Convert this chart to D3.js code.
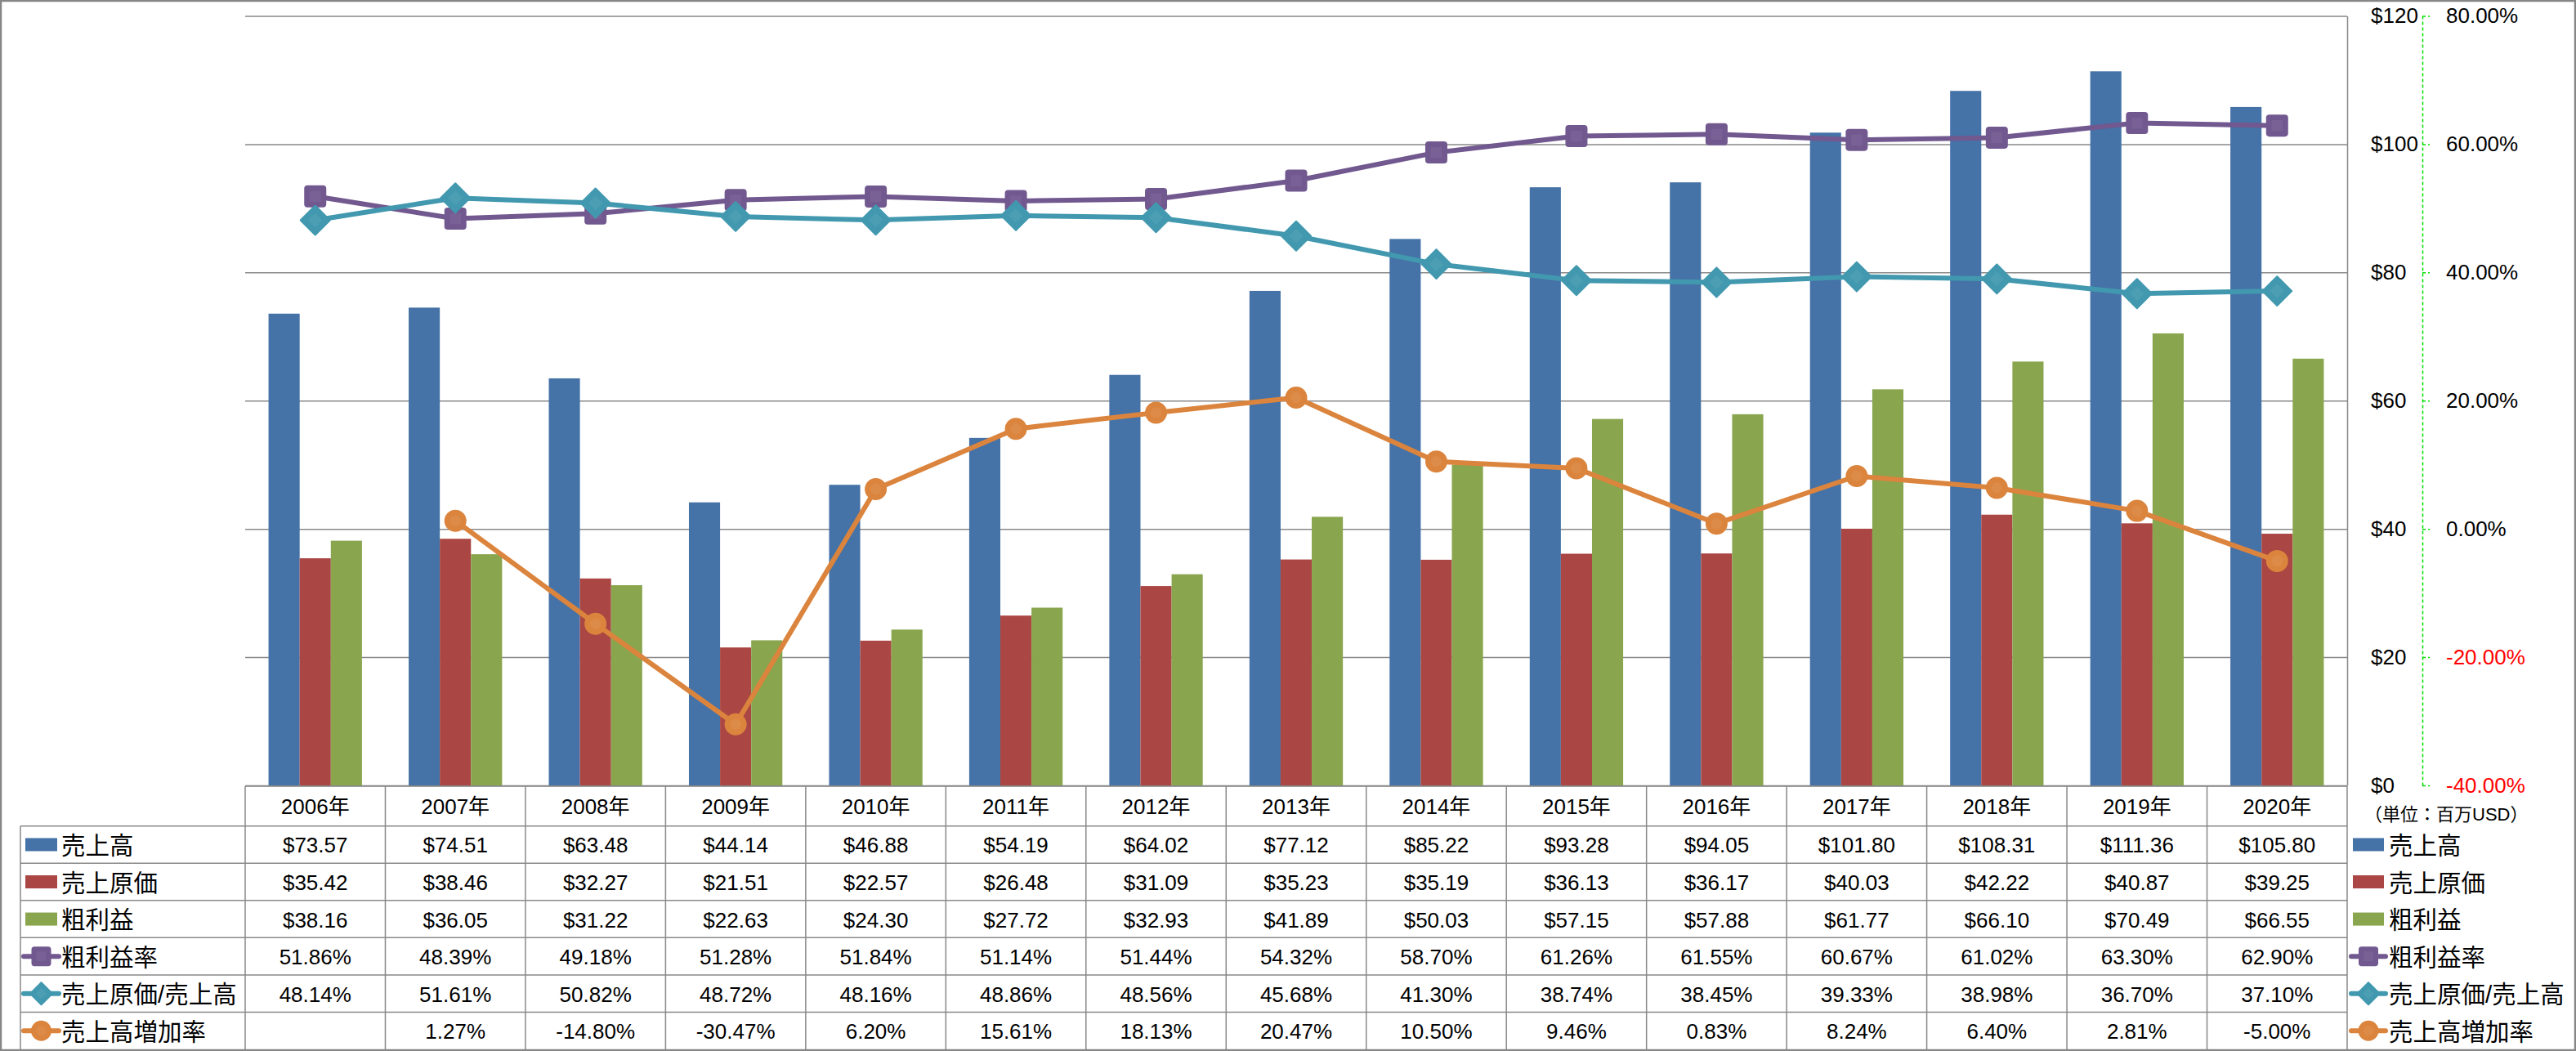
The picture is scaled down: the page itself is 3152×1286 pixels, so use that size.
<!DOCTYPE html>
<html>
<head>
<meta charset="utf-8">
<script src="https://cdn.jsdelivr.net/npm/d3@7"></script>
<style>
  html, body { margin: 0; padding: 0; background: #fff; }
  svg text { font-family: "Liberation Sans", "Noto Sans CJK JP", sans-serif; fill: #000; }
</style>
</head>
<body>
<svg id="chart" width="3152" height="1286"></svg>
<script>
// ---------- data ----------
const categories = ['2006年','2007年','2008年','2009年','2010年','2011年','2012年','2013年','2014年','2015年','2016年','2017年','2018年','2019年','2020年'];
const sales      = [73.57, 74.51, 63.48, 44.14, 46.88, 54.19, 64.02, 77.12, 85.22, 93.28, 94.05, 101.80, 108.31, 111.36, 105.80];
const costOfSales= [35.42, 38.46, 32.27, 21.51, 22.57, 26.48, 31.09, 35.23, 35.19, 36.13, 36.17, 40.03, 42.22, 40.87, 39.25];
const grossProfit= [38.16, 36.05, 31.22, 22.63, 24.30, 27.72, 32.93, 41.89, 50.03, 57.15, 57.88, 61.77, 66.10, 70.49, 66.55];
const grossMargin= [51.86, 48.39, 49.18, 51.28, 51.84, 51.14, 51.44, 54.32, 58.70, 61.26, 61.55, 60.67, 61.02, 63.30, 62.90];
const costRatio  = [48.14, 51.61, 50.82, 48.72, 48.16, 48.86, 48.56, 45.68, 41.30, 38.74, 38.45, 39.33, 38.98, 36.70, 37.10];
const salesGrowth= [null, 1.27, -14.80, -30.47, 6.20, 15.61, 18.13, 20.47, 10.50, 9.46, 0.83, 8.24, 6.40, 2.81, -5.00];
const leftTicks  = [0, 20, 40, 60, 80, 100, 120];
const rightTicks = [-40, -20, 0, 20, 40, 60, 80];
const seriesNames = ['売上高','売上原価','粗利益','粗利益率','売上原価/売上高','売上高増加率'];
const unitLabel = '（単位：百万USD）';

// ---------- layout ----------
const colors = { bar: ['#4572A7','#AA4643','#89A54E'], purple: '#71588F', teal: '#4198AF', orange: '#DB843D' };
const L = 300, R = 2872, T = 19.5, B = 961;
const gridColor = '#898989';
const fs = 26;

const svg = d3.select('#chart');
svg.append('rect').attr('x',0).attr('y',0).attr('width',3152).attr('height',1286).attr('fill','#fff');

const x = d3.scaleBand().domain(categories).range([L, R]).padding(0);
const barKeys = [0,1,2];
const xSub = d3.scaleBand().domain(barKeys).range([0, x.bandwidth()]).paddingInner(0).paddingOuter(0.75);
const y = d3.scaleLinear().domain([0, 120]).range([B, T]);
const y2 = d3.scaleLinear().domain([-40, 80]).range([B, T]);

// gridlines
const grid = svg.append('g').attr('transform', `translate(${L},0)`)
  .call(d3.axisRight(y).tickValues(leftTicks).tickSize(R - L).tickFormat(''));
grid.select('.domain').remove();
grid.selectAll('line').attr('stroke', gridColor).attr('stroke-width', 1.5);

// bars
const barData = [sales, costOfSales, grossProfit];
const gBars = svg.append('g');
barKeys.forEach(k => {
  gBars.selectAll(null).data(categories).enter().append('rect')
    .attr('x', d => x(d) + xSub(k))
    .attr('width', xSub.bandwidth())
    .attr('y', (d, i) => y(barData[k][i]))
    .attr('height', (d, i) => y(0) - y(barData[k][i]))
    .attr('fill', colors.bar[k]);
});

// primary axis (right side)
const ax1 = svg.append('g').attr('transform', `translate(${R},0)`)
  .call(d3.axisRight(y).tickValues(leftTicks).tickSize(0).tickSizeOuter(0).tickPadding(29).tickFormat(d => '$' + d));
ax1.select('.domain').attr('stroke', gridColor).attr('stroke-width', 1.5);
ax1.selectAll('text').attr('font-size', fs).style('font-family', '"Liberation Sans", sans-serif');

// secondary axis
const AX2 = 2964;
const ax2 = svg.append('g').attr('transform', `translate(${AX2},0)`)
  .call(d3.axisRight(y2).tickValues(rightTicks).tickSize(9).tickSizeOuter(0).tickPadding(20).tickFormat(d => d.toFixed(2) + '%'));
ax2.select('.domain').attr('stroke', '#00E000').attr('stroke-width', 1.5).attr('stroke-dasharray', '4,3');
ax2.selectAll('.tick line').attr('stroke', '#00E000').attr('stroke-width', 1.5).attr('stroke-dasharray', '4,3');
ax2.selectAll('text').attr('font-size', fs).style('font-family', '"Liberation Sans", sans-serif')
  .style('fill', d => d < 0 ? '#FF0000' : '#000');

// unit label
svg.append('text').attr('x', 2893).attr('y', 996).attr('font-size', 22)
  .attr('dominant-baseline', 'central').text(unitLabel);

// markers
function marker(g, type, cx, cy, color, s) {
  if (type === 'square') {
    g.append('rect').attr('x', cx - s/2).attr('y', cy - s/2).attr('width', s).attr('height', s)
      .attr('rx', s*0.15).attr('fill', color);
    g.append('rect').attr('x', cx - s*0.25).attr('y', cy - s*0.25).attr('width', s*0.5).attr('height', s*0.5)
      .attr('fill', '#fff').attr('opacity', 0.06);
  } else if (type === 'diamond') {
    const h = s/2;
    g.append('path').attr('d', `M${cx},${cy-h}L${cx+h},${cy}L${cx},${cy+h}L${cx-h},${cy}Z`)
      .attr('fill', color).attr('stroke', color).attr('stroke-width', 2).attr('stroke-linejoin', 'round');
    g.append('path').attr('d', `M${cx},${cy-h*0.5}L${cx+h*0.5},${cy}L${cx},${cy+h*0.5}L${cx-h*0.5},${cy}Z`)
      .attr('fill', '#fff').attr('opacity', 0.06);
  } else {
    g.append('circle').attr('cx', cx).attr('cy', cy).attr('r', s/2).attr('fill', color);
    g.append('circle').attr('cx', cx).attr('cy', cy).attr('r', s/4).attr('fill', '#fff').attr('opacity', 0.06);
  }
}

const lineSeries = [
  { values: grossMargin, color: colors.purple, type: 'square', size: 27 },
  { values: costRatio,   color: colors.teal,   type: 'diamond', size: 36 },
  { values: salesGrowth, color: colors.orange, type: 'circle', size: 27 }
];
const cx = c => x(c) + x.bandwidth()/2;
lineSeries.forEach(s => {
  const g = svg.append('g');
  const pts = categories.map((c, i) => ({ c, v: s.values[i] }));
  const line = d3.line().defined(d => d.v !== null).x(d => cx(d.c)).y(d => y2(d.v));
  g.append('path').attr('d', line(pts)).attr('fill', 'none').attr('stroke', s.color)
    .attr('stroke-width', 6).attr('stroke-linejoin', 'round').attr('stroke-linecap', 'round');
  pts.filter(d => d.v !== null).forEach(d => marker(g, s.type, cx(d.c), y2(d.v), s.color, s.size));
});

// ---------- data table ----------
const headTop = 962, rowTop = 1010.7, rowH = 45.55, legL = 25;
const tbl = svg.append('g');
const lineAttr = sel => sel.attr('stroke', gridColor).attr('stroke-width', 1.5);
// header text
tbl.selectAll(null).data(categories).enter().append('text')
  .attr('x', d => cx(d)).attr('y', (headTop + rowTop)/2 + 1)
  .attr('text-anchor', 'middle').attr('dominant-baseline', 'central').attr('font-size', fs)
  .text(d => d);
// rows
const rows = [
  { vals: sales, fmt: v => '$' + v.toFixed(2) },
  { vals: costOfSales, fmt: v => '$' + v.toFixed(2) },
  { vals: grossProfit, fmt: v => '$' + v.toFixed(2) },
  { vals: grossMargin, fmt: v => v.toFixed(2) + '%' },
  { vals: costRatio, fmt: v => v.toFixed(2) + '%' },
  { vals: salesGrowth, fmt: v => v === null ? '' : v.toFixed(2) + '%' }
];
rows.forEach((r, ri) => {
  const cy = rowTop + rowH * ri + rowH/2 + 1;
  tbl.selectAll(null).data(categories).enter().append('text')
    .attr('x', d => cx(d)).attr('y', cy)
    .attr('text-anchor', 'middle').attr('dominant-baseline', 'central').attr('font-size', fs)
    .text((d, i) => r.fmt(r.vals[i]));
});
// grid lines of the table
lineAttr(tbl.append('line').attr('x1', L).attr('x2', R).attr('y1', headTop).attr('y2', headTop));
for (let i = 0; i < 6; i++) {
  const yy = rowTop + rowH * i;
  lineAttr(tbl.append('line').attr('x1', legL).attr('x2', R).attr('y1', yy).attr('y2', yy));
}
const colEdges = categories.map(c => x(c)).concat([R]);
colEdges.forEach(xx => lineAttr(tbl.append('line').attr('x1', xx).attr('x2', xx).attr('y1', headTop).attr('y2', 1285)));
lineAttr(tbl.append('line').attr('x1', legL).attr('x2', legL).attr('y1', rowTop).attr('y2', 1285));

// legend keys (in table and on the right)
const keyTypes = [
  { kind: 'bar', color: colors.bar[0] },
  { kind: 'bar', color: colors.bar[1] },
  { kind: 'bar', color: colors.bar[2] },
  { kind: 'line', color: colors.purple, type: 'square', size: 24 },
  { kind: 'line', color: colors.teal, type: 'diamond', size: 27 },
  { kind: 'line', color: colors.orange, type: 'circle', size: 25 }
];
function legendKey(g, k, x0, x1, cyy) {
  if (k.kind === 'bar') {
    g.append('rect').attr('x', x0 + 2).attr('y', cyy - 8).attr('width', x1 - x0 - 4).attr('height', 16).attr('fill', k.color);
  } else {
    g.append('line').attr('x1', x0).attr('x2', x1).attr('y1', cyy).attr('y2', cyy)
      .attr('stroke', k.color).attr('stroke-width', 6).attr('stroke-linecap', 'round');
    marker(g, k.type, (x0 + x1)/2, cyy, k.color, k.size);
  }
}
const leg = svg.append('g');
seriesNames.forEach((name, i) => {
  const cyy = rowTop + rowH * i + rowH/2;
  legendKey(leg, keyTypes[i], 29, 72, cyy);
  leg.append('text').attr('x', 75).attr('y', cyy + 1).attr('dominant-baseline', 'central')
    .attr('font-size', 29.5).text(name);
  legendKey(leg, keyTypes[i], 2877, 2919, cyy);
  leg.append('text').attr('x', 2923).attr('y', cyy + 1).attr('dominant-baseline', 'central')
    .attr('font-size', 29.5).text(name);
});

// outer border
svg.append('rect').attr('x', 1).attr('y', 1).attr('width', 3150).attr('height', 1284)
  .attr('fill', 'none').attr('stroke', '#868686').attr('stroke-width', 2.5);
</script>
</body>
</html>
